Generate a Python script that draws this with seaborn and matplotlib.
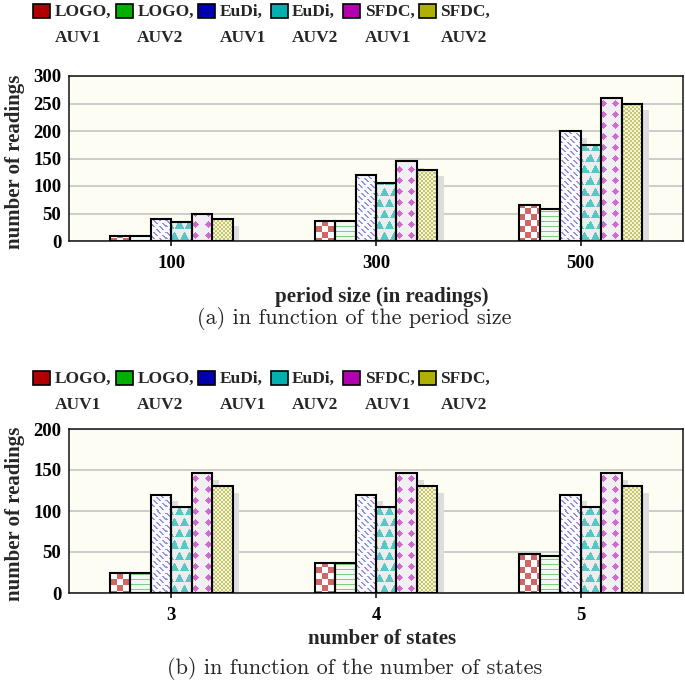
import numpy as np
import pandas as pd
import seaborn as sns
import matplotlib
matplotlib.use("Agg")
import matplotlib.pyplot as plt
from matplotlib.patches import Rectangle, Patch
from matplotlib.legend_handler import HandlerPatch
from matplotlib import transforms

# ---------------- data ----------------
series_names = ["LOGO,\nAUV1", "LOGO,\nAUV2", "EuDi,\nAUV1", "EuDi,\nAUV2", "SFDC,\nAUV1", "SFDC,\nAUV2"]
legend_colors = ["#b00000", "#00b000", "#0000b0", "#00b0b0", "#b000b0", "#b0b000"]

period_sizes = ["100", "300", "500"]
period_logo_auv1 = [10, 37, 65]
period_logo_auv2 = [9, 37, 58]
period_eudi_auv1 = [40, 120, 200]
period_eudi_auv2 = [35, 105, 175]
period_sfdc_auv1 = [50, 145, 260]
period_sfdc_auv2 = [40, 130, 250]

num_states = ["3", "4", "5"]
states_logo_auv1 = [25, 36, 48]
states_logo_auv2 = [25, 36, 45]
states_eudi_auv1 = [120, 120, 120]
states_eudi_auv2 = [105, 105, 105]
states_sfdc_auv1 = [146, 146, 146]
states_sfdc_auv2 = [130, 130, 130]

top_yticks = [0, 50, 100, 150, 200, 250, 300]
bottom_yticks = [0, 50, 100, 150, 200]

# ---------------- style ----------------
sns.set_style("white")
plt.rcParams["font.family"] = ["Liberation Serif", "DejaVu Serif"]
plt.rcParams["font.weight"] = "bold"
plt.rcParams["axes.labelweight"] = "bold"

fig = plt.figure(figsize=(6.85, 6.82), dpi=100)
W_FIG, H_FIG = 685, 682


def fig_rect(left, top, right, bottom):
    return [left / W_FIG, 1 - bottom / H_FIG, (right - left) / W_FIG, (bottom - top) / H_FIG]


ax_top = fig.add_axes(fig_rect(69, 76, 683, 241))
ax_bot = fig.add_axes(fig_rect(69, 429, 683, 593))


def texture(kind, w, h):
    yy, xx = np.indices((h, w))
    img = np.ones((h, w, 3))
    if kind == 0:  # red checkerboard
        img[:] = (1.0, 1.0, 1.0)
        m = ((xx // 6) + (yy // 6)) % 2 == 0
        img[m] = (0.82, 0.40, 0.40)
    elif kind == 1:  # green horizontal lines
        img[:] = (0.95, 0.98, 0.95)
        m = yy % 5 == 0
        img[m] = (0.50, 0.80, 0.50)
    elif kind == 2:  # blue diagonal dashes
        img[:] = (0.98, 0.98, 1.0)
        m = (((xx - yy) % 6) < 2) & (((xx + yy) % 12) < 8)
        img[m] = (0.58, 0.58, 0.86)
    elif kind == 3:  # teal triangles
        img[:] = (0.93, 0.93, 0.93)
        cw, ch = 10, 11
        row = yy // ch
        u = (xx + (row % 2) * (cw // 2)) % cw
        v = yy % ch
        tri_h, tri_b = 8, 9
        v0 = 2
        inside = (v >= v0) & (v < v0 + tri_h)
        half = (v - v0 + 1) / tri_h * (tri_b / 2)
        m = inside & (np.abs(u - cw / 2) <= half)
        img[m] = (0.35, 0.78, 0.78)
    elif kind == 4:  # magenta diamonds
        img[:] = (0.95, 0.94, 0.95)
        cw, ch = 12, 11
        u = xx % cw
        v = yy % ch
        m = (np.abs(u - 6) + np.abs(v - 5)) <= 3
        img[m] = (0.82, 0.42, 0.82)
    else:  # olive fine checker
        img[:] = (0.96, 0.96, 0.84)
        m = ((xx // 2) + (yy // 2)) % 2 == 0
        img[m] = (0.78, 0.78, 0.45)
    return img


def draw_panel(ax, cats, value_lists, yticks, xlabel, xlabel_y):
    rows = []
    for s, vals in zip(series_names, value_lists):
        for c, v in zip(cats, vals):
            rows.append({"cat": c, "series": s, "value": v})
    df = pd.DataFrame(rows)
    sns.barplot(data=df, x="cat", y="value", hue="series", order=cats,
                hue_order=series_names, palette=legend_colors, width=0.6,
                gap=0, edgecolor="black", linewidth=1.5, errorbar=None,
                legend=False, ax=ax)
    ymax = yticks[-1]
    ax.set_facecolor("#fdfdf3")
    bars = list(ax.patches)
    w_px = int(round(ax.bbox.width))
    h_px = int(round(ax.bbox.height))
    textures = [texture(k, w_px, h_px) for k in range(6)]
    rgb_list = [np.array(matplotlib.colors.to_rgb(c)) for c in legend_colors]
    shadow_tr = ax.transData + transforms.ScaledTranslation(0.067, -0.067, fig.dpi_scale_trans)
    for bar in bars:
        fc = np.array(bar.get_facecolor()[:3])
        k = int(np.argmin([np.sum((fc - c) ** 2) for c in rgb_list]))
        x, y = bar.get_x(), bar.get_y()
        w, h = bar.get_width(), bar.get_height()
        sh = Rectangle((x, y), w, h, transform=shadow_tr, facecolor="#dddddb",
                       edgecolor="none", zorder=1)
        ax.add_patch(sh)
        im = ax.imshow(textures[k], extent=(-0.5, 2.5, 0, ymax), origin="upper",
                       aspect="auto", interpolation="nearest", zorder=2)
        im.set_clip_path(bar)
        bar.set_facecolor("none")
        bar.set_zorder(3)
    ax.set_xlim(-0.5, 2.5)
    ax.set_ylim(0, ymax)
    ax.set_yticks(yticks)
    ax.set_yticklabels([str(t) for t in yticks])
    ax.yaxis.grid(True, color="#c4c4c4", linewidth=1.2)
    ax.xaxis.grid(False)
    ax.set_axisbelow(True)
    for sp in ax.spines.values():
        sp.set_visible(True)
        sp.set_color("#111111")
        sp.set_linewidth(1.1)
    ax.tick_params(axis="x", length=3.6, width=1.1, direction="out", pad=6.5,
                   labelsize=13.5, colors="black", bottom=True)
    ax.tick_params(axis="y", length=0, pad=5.5, labelsize=13.5, colors="black")
    for lab in ax.get_xticklabels() + ax.get_yticklabels():
        lab.set_fontweight("bold")
    ax.set_xlabel(xlabel, fontsize=15, fontweight="bold")
    ax.set_ylabel("number of readings", fontsize=15, fontweight="bold")
    ax.xaxis.set_label_coords(0.51, xlabel_y)
    ax.yaxis.set_label_coords(-0.072, 0.48)


draw_panel(ax_top, period_sizes,
           [period_logo_auv1, period_logo_auv2, period_eudi_auv1,
            period_eudi_auv2, period_sfdc_auv1, period_sfdc_auv2],
           top_yticks, "period size (in readings)", -0.278)
draw_panel(ax_bot, num_states,
           [states_logo_auv1, states_logo_auv2, states_eudi_auv1,
            states_eudi_auv2, states_sfdc_auv1, states_sfdc_auv2],
           bottom_yticks, "number of states", -0.222)

RAISE = 9.8


def raised_square(legend, orig_handle, xdescent, ydescent, width, height, fontsize):
    return Rectangle((-xdescent, -ydescent + RAISE), width, height)


def add_legend(y_top):
    handles = [Patch(facecolor=c, edgecolor="black", linewidth=1.2) for c in legend_colors]
    leg = fig.legend(handles, series_names, loc="upper left",
                     bbox_to_anchor=(33 / W_FIG, y_top), ncol=6, frameon=False,
                     prop={"family": ["Liberation Serif"], "weight": "bold", "size": 12.5},
                     handlelength=1.0, handleheight=0.9, handletextpad=0.25,
                     columnspacing=0.25, borderpad=0, borderaxespad=0,
                     handler_map={Patch: HandlerPatch(patch_func=raised_square)})
    for t in leg.get_texts():
        t.set_linespacing(1.8)
    return leg


add_legend(1 - 4 / H_FIG)
add_legend(1 - 371 / H_FIG)

fig.text(354 / W_FIG, 1 - 319 / H_FIG, "(a) in function of the period size",
         family="cmr10", fontsize=16, ha="center", va="center", fontweight="normal")
fig.text(355 / W_FIG, 1 - 668 / H_FIG, "(b) in function of the number of states",
         family="cmr10", fontsize=16, ha="center", va="center", fontweight="normal")

fig.savefig("out.png", dpi=100)
